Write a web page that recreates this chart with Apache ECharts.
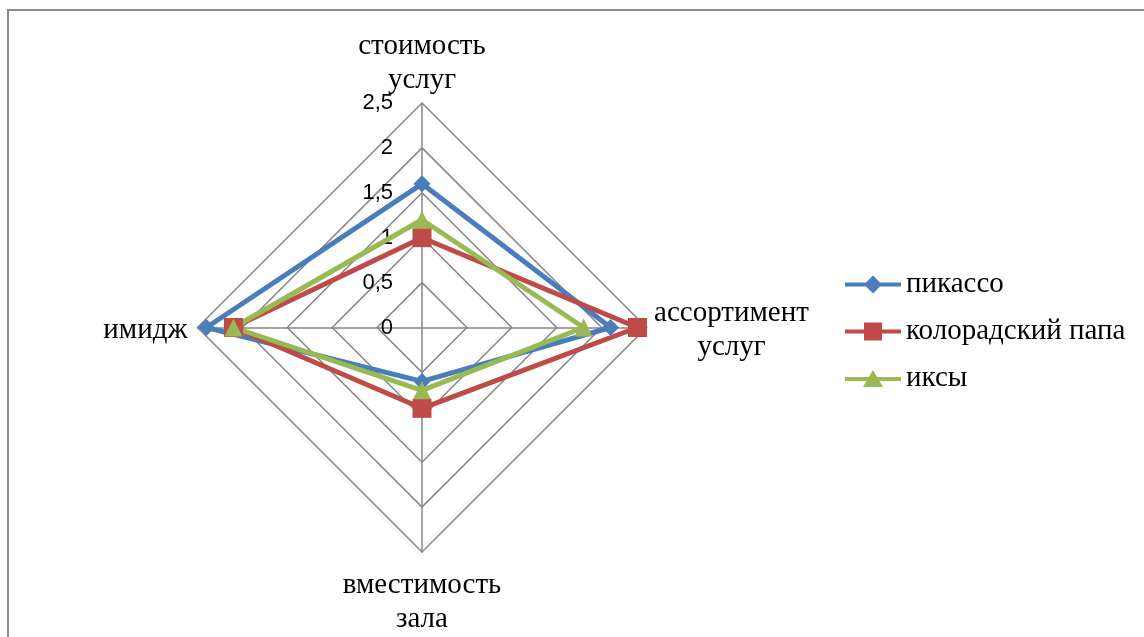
<!DOCTYPE html>
<html>
<head>
<meta charset="utf-8">
<script src="https://cdn.jsdelivr.net/npm/echarts@6/dist/echarts.min.js"></script>
<style>
  html, body { margin: 0; padding: 0; background: #fff; }
  #chart { width: 1144px; height: 637px; }
</style>
</head>
<body>
<div id="chart"></div>
<script>
// оси радара (ECharts идёт против часовой: верх, лево, низ, право)
let indicatorNames = ['стоимость\nуслуг', 'имидж', 'вместимость\nзала', 'ассортимент\nуслуг']
let axisMax = 2.5

// серии
let seriesNames = ['пикассо', 'колорадский папа', 'иксы']
let picassoValues = [1.6, 2.4, 0.6, 2.1]
let papaValues = [1.0, 2.1, 0.9, 2.4]
let xValues = [1.2, 2.1, 0.7, 1.8]

let colors = ['#4A7EBB', '#BE4B48', '#98B954']
let symbols = ['diamond', 'rect', 'triangle']
let symbolSizes = [17, 19, 18]

// иконки легенды: линия с маркером
let legendIcons = [
  'path://M0 7 L21 7 L28 0 L35 7 L56 7 L56 11 L35 11 L28 18 L21 11 L0 11 Z',
  'path://M0 7 L19 7 L19 0 L37 0 L37 7 L56 7 L56 11 L37 11 L37 18 L19 18 L19 11 L0 11 Z',
  'path://M0 7 L23.9 7 L28 0 L32.1 7 L56 7 L56 11 L34.5 11 L38 17 L18 17 L21.5 11 L0 11 Z'
]

let serifFont = '"Liberation Serif", "Times New Roman", serif'
let sansFont = '"Liberation Sans", Arial, sans-serif'

let myChart = echarts.init(document.getElementById('chart'))

let nameGaps = [6, 10, 10, 7]

let indicators = indicatorNames.map((name, i) => {
  let ind = { name: name, min: 0, max: axisMax, nameGap: nameGaps[i], nameMoveOverlap: false }
  if (i === 0) {
    ind.axisLabel = {
      show: true,
      fontFamily: sansFont,
      fontSize: 22,
      color: '#000',
      margin: 29,
      formatter: v => String(v).replace('.', ',')
    }
  }
  return ind
})

let values = [picassoValues, papaValues, xValues]

let option = {
  animation: false,
  color: colors,
  graphic: [
    {
      type: 'rect',
      shape: { x: 8, y: 10, width: 1300, height: 800 },
      style: { fill: 'none', stroke: '#8c8c8c', lineWidth: 2 },
      silent: true
    }
  ],
  legend: {
    orient: 'vertical',
    left: 845,
    top: 270,
    padding: 0,
    itemWidth: 56,
    itemHeight: 18,
    itemGap: 18,
    textStyle: { fontFamily: serifFont, fontSize: 29, color: '#000' },
    data: seriesNames.map((n, i) => ({ name: n, icon: legendIcons[i] }))
  },
  radar: {
    center: [422, 327.5],
    radius: 224.5,
    startAngle: 90,
    shape: 'polygon',
    splitNumber: 5,
    nameGap: 10,
    axisName: {
      color: '#000',
      fontFamily: serifFont,
      fontSize: 29,
      lineHeight: 34,
      padding: [6, 0, 0, 0],
      formatter: function (name) {
        let style = name.indexOf('ассортимент') === 0 ? 'r' : 'c'
        return name.split('\n').map(s => '{' + style + '|' + s + '}').join('\n')
      },
      rich: {
        c: { fontFamily: serifFont, fontSize: 29, lineHeight: 34, color: '#000' },
        r: { fontFamily: serifFont, fontSize: 29, lineHeight: 34, color: '#000', width: 156, align: 'center' }
      }
    },
    axisLine: { lineStyle: { color: '#868686', width: 1.5 } },
    splitLine: { lineStyle: { color: '#868686', width: 1.5 } },
    splitArea: { show: false },
    axisTick: { show: false },
    axisLabel: { show: false },
    indicator: indicators
  },
  series: [
    {
      type: 'radar',
      data: values.map((v, i) => ({
        name: seriesNames[i],
        value: v,
        symbol: symbols[i],
        symbolSize: symbolSizes[i],
        lineStyle: { width: 5, color: colors[i] },
        itemStyle: { color: colors[i] }
      }))
    }
  ]
}

myChart.setOption(option)
</script>
</body>
</html>
